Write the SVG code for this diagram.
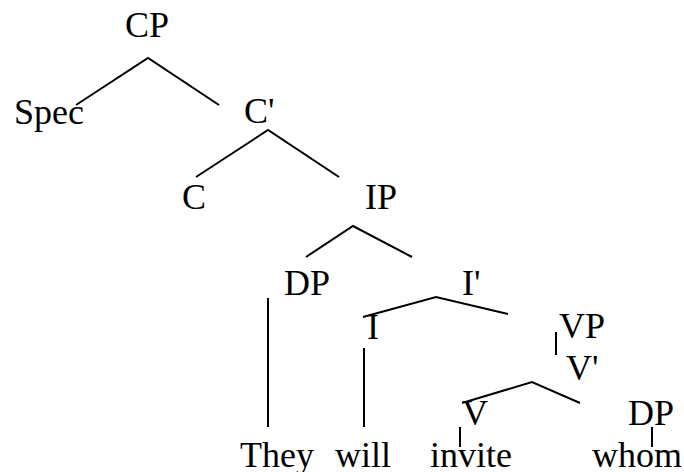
<svg xmlns="http://www.w3.org/2000/svg" width="684" height="472" viewBox="0 0 684 472">
  <style>
    text { font-family: "Liberation Serif", "Times New Roman", serif; font-size: 36px; fill: #000; }
    .edge { stroke: #000; stroke-width: 2; fill: none; }
  </style>
  <rect width="684" height="472" fill="#fff"/>

  <!-- connectors -->
  <g id="connectors">
    <polyline class="edge" points="76,105 148,58 219,105"/>
    <polyline class="edge" points="196,177 268,130 339,177"/>
    <polyline class="edge" points="306,257 353,226 412,257"/>
    <line class="edge" x1="268" y1="298" x2="268" y2="427"/>
    <polyline class="edge" points="363,317 436,297 508,314"/>
    <line class="edge" x1="364" y1="348" x2="364" y2="427"/>
    <line class="edge" x1="556" y1="332" x2="556" y2="355"/>
    <polyline class="edge" points="462,403 532,382 580,403"/>
    <line class="edge" x1="460" y1="427" x2="460" y2="447"/>
    <line class="edge" x1="652" y1="427" x2="652" y2="447"/>
  </g>

  <!-- nodes -->
  <g id="node-CP"><text x="125" y="37">CP</text></g>
  <g id="node-Spec"><text x="14" y="124">Spec</text></g>
  <g id="node-Cbar"><text x="244" y="123">C'</text></g>
  <g id="node-C"><text x="182" y="209">C</text></g>
  <g id="node-IP"><text x="365" y="209">IP</text></g>
  <g id="node-DP-subject"><text x="284" y="295">DP</text></g>
  <g id="node-Ibar"><text x="462" y="295">I'</text></g>
  <g id="node-I"><text x="367" y="339">I</text></g>
  <g id="node-VP"><text x="559" y="338">VP</text></g>
  <g id="node-Vbar"><text x="566" y="380">V'</text></g>
  <g id="node-V"><text x="462" y="425">V</text></g>
  <g id="node-DP-object"><text x="628" y="425">DP</text></g>

  <!-- terminal words -->
  <g id="word-they"><text x="240" y="467">They</text></g>
  <g id="word-will"><text x="335" y="467">will</text></g>
  <g id="word-invite"><text x="430" y="467">invite</text></g>
  <g id="word-whom"><text x="592" y="467">whom</text></g>
</svg>
